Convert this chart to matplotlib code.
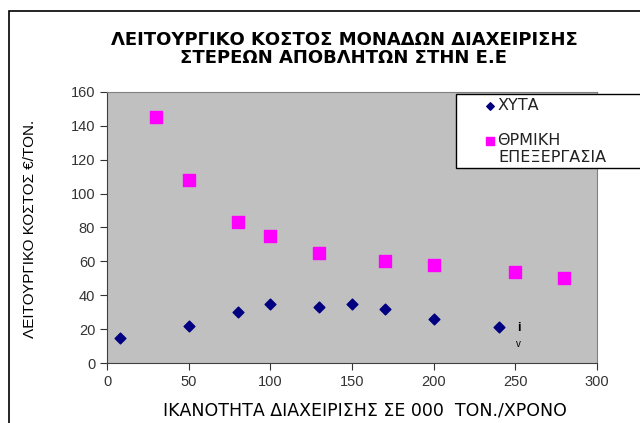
import matplotlib
matplotlib.use("Agg")
import matplotlib.pyplot as plt
from matplotlib.patches import Rectangle

plt.rcParams['font.family'] = ['Liberation Sans', 'DejaVu Sans']

xyta_x = [8, 50, 80, 100, 130, 150, 170, 200, 240]
xyta_y = [15, 22, 30, 35, 33, 35, 32, 26, 21]
therm_x = [30, 50, 80, 100, 130, 170, 200, 250, 280]
therm_y = [145, 108, 83, 75, 65, 60, 58, 54, 50]
x_ticks = [0, 50, 100, 150, 200, 250, 300]
y_ticks = [0, 20, 40, 60, 80, 100, 120, 140, 160]
label_xyta = 'ΧΥΤΑ'
label_therm = ['ΘΡΜΙΚΗ', 'ΕΠΕΞΕΡΓΑΣΙΑ']

W, H = 640, 423
fig = plt.figure(figsize=(6.4, 4.23), dpi=100)
fig.patch.set_facecolor('white')
# figure border (right/bottom edges lie outside the canvas)
fig.patches.append(Rectangle((9 / W, -0.05), 1.0, 1 - 11 / H + 0.05,
                             transform=fig.transFigure, fill=False,
                             edgecolor='black', linewidth=1.2, zorder=1))

ax = fig.add_axes([107 / W, 1 - 363 / H, (597 - 107) / W, (363 - 92) / H])
ax.set_facecolor('#C0C0C0')
h1 = ax.scatter(xyta_x, xyta_y, marker='D', s=30, color='#000080', zorder=3)
h2 = ax.scatter(therm_x, therm_y, marker='s', s=70, color='#FF00FF', zorder=3)
ax.set_xlim(0, 300)
ax.set_ylim(0, 160)
ax.set_xticks(x_ticks)
ax.set_yticks(y_ticks)
ax.tick_params(axis='both', labelsize=10.5, colors='#333333', direction='out', length=5)
for s in ax.spines.values():
    s.set_color('#808080')
ax.spines['left'].set_color('#404040')
ax.spines['bottom'].set_color('#404040')

ax.text(252, 20.5, 'i', fontsize=9, fontweight='bold', ha='center', va='center')
ax.text(252, 11.5, 'v', fontsize=7, ha='center', va='center')

ax.set_xlabel('ΙΚΑΝΟΤΗΤΑ ΔΙΑΧΕΙΡΙΣΗΣ ΣΕ 000  ΤΟΝ./ΧΡΟΝΟ', fontsize=12.5,
              family='DejaVu Sans', va='center', ha='center', color='black')
ax.xaxis.set_label_coords((365 - 107) / 490, -(410 - 363) / 271)
ax.set_ylabel('ΛΕΙΤΟΥΡΓΙΚΟ ΚΟΣΤΟΣ €/ΤΟΝ.', fontsize=11, va='center', ha='center',
              color='black')
ax.yaxis.set_label_coords(-(107 - 30) / 490, (363 - 229) / 271)

fig.text(344 / W, 1 - 49 / H,
         'ΛΕΙΤΟΥΡΓΙΚΟ ΚΟΣΤΟΣ ΜΟΝΑΔΩΝ ΔΙΑΧΕΙΡΙΣΗΣ\nΣΤΕΡΕΩΝ ΑΠΟΒΛΗΤΩΝ ΣΤΗΝ Ε.Ε',
         ha='center', va='center', fontsize=13, fontweight='bold',
         family='DejaVu Sans', linespacing=1.0)

# legend box (extends past the right edge of the canvas)
fig.patches.append(Rectangle((456 / W, 1 - 168 / H), 0.5, (168 - 94) / H,
                             transform=fig.transFigure, facecolor='white',
                             edgecolor='black', linewidth=1.0, zorder=4))
leg = fig.legend([h1, h2], [label_xyta, label_therm[0]], loc='upper left',
                 bbox_to_anchor=(484 / W, 1 - 98 / H), bbox_transform=fig.transFigure,
                 frameon=False, handletextpad=0.05, handlelength=0.8, markerscale=0.7,
                 labelspacing=1.25, borderaxespad=0, borderpad=0,
                 prop={'family': 'DejaVu Sans', 'size': 11.5})
leg.set_zorder(5)
for t in leg.get_texts():
    t.set_color('#222222')
fig.text(498 / W, 1 - 158 / H, label_therm[1], fontsize=11.5, family='DejaVu Sans',
         color='#222222', ha='left', va='center', zorder=5)

fig.savefig('out.png', dpi=100)
